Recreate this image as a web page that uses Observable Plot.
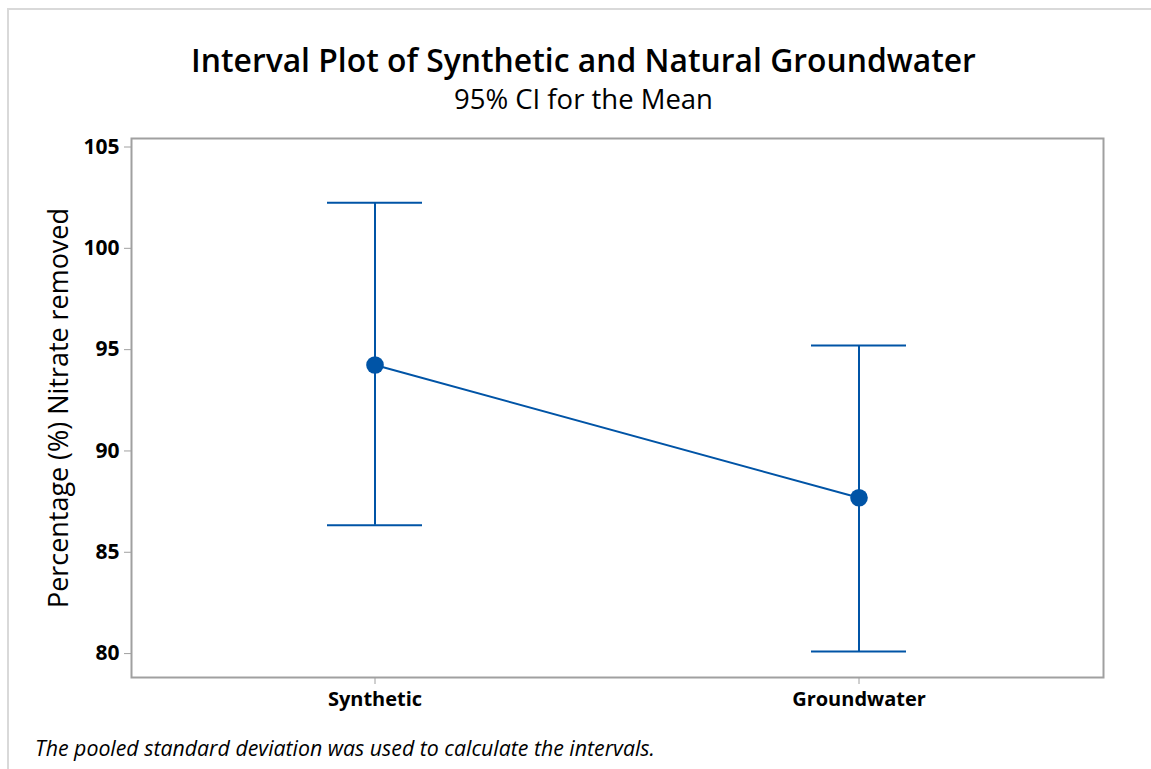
<!DOCTYPE html>
<html><head><meta charset="utf-8">
<script src="https://cdn.jsdelivr.net/npm/d3@7"></script>
<script src="https://cdn.jsdelivr.net/npm/@observablehq/plot@0.6"></script>
<style>
html,body{margin:0;padding:0;background:#fff;}
#wrap{position:relative;width:1151px;height:769px;overflow:hidden;font-family:'Open Sans',sans-serif;}
#edge{position:absolute;left:7px;top:8px;width:1144px;height:761px;border-top:2px solid #d9d9d9;border-left:2px solid #d9d9d9;}
#chart{position:absolute;left:0;top:0;}
#texts{position:absolute;left:0;top:0;pointer-events:none;}
</style></head><body>
<div id="wrap"><div id="edge"></div><div id="chart"></div>
<svg id="texts" width="1151" height="769"></svg></div>
<script>
const categories = ["Synthetic", "Groundwater"];
const means = [94.24, 87.69];
const lower = [86.33, 80.10];
const upper = [102.25, 95.20];
const yTicks = [80, 85, 90, 95, 100, 105];
const titleText = "Interval Plot of Synthetic and Natural Groundwater";
const subtitleText = "95% CI for the Mean";
const yLabel = "Percentage (%) Nitrate removed";
const captionText = "The pooled standard deviation was used to calculate the intervals.";

const rows = categories.map((c, i) => ({cat: c, mean: means[i], lo: lower[i], hi: upper[i]}));
const blue = "#0054a6";
const chart = Plot.plot({
  width: 1151, height: 769,
  marginLeft: 131, marginRight: 48, marginTop: 138, marginBottom: 92,
  style: {fontFamily: "'Open Sans', sans-serif", background: "transparent", color: "#000"},
  x: {type: "band", domain: categories, paddingInner: 0.803, paddingOuter: 0.4045, label: null},
  y: {domain: [78.82, 105.42], label: null},
  marks: [
    Plot.ruleX(rows, {x: "cat", y1: "lo", y2: "hi", stroke: blue, strokeWidth: 2}),
    Plot.tickY(rows, {x: "cat", y: "hi", stroke: blue, strokeWidth: 2}),
    Plot.tickY(rows, {x: "cat", y: "lo", stroke: blue, strokeWidth: 2}),
    Plot.line(rows, {x: "cat", y: "mean", stroke: blue, strokeWidth: 2}),
    Plot.dot(rows, {x: "cat", y: "mean", r: 8.8, fill: blue, stroke: "none"}),
    Plot.frame({stroke: "#a0a0a0", strokeWidth: 2}),
    Plot.axisY({ticks: yTicks, tickSize: 7, tickPadding: 5, stroke: "#a0a0a0", fill: "#000", fontSize: 21, fontWeight: "bold", label: null}),
    Plot.axisX({tickSize: 7, tickPadding: 7, stroke: "#a0a0a0", fill: "#000", fontSize: 20, fontWeight: "bold", label: null})
  ]
});
document.getElementById("chart").appendChild(chart);

const NS = "http://www.w3.org/2000/svg";
const svgT = document.getElementById("texts");
function addText(str, left, right, baseline, weight, italic, rotateAt) {
  const t = document.createElementNS(NS, "text");
  t.textContent = str;
  t.setAttribute("font-family", "Open Sans, sans-serif");
  t.setAttribute("font-weight", weight);
  t.setAttribute("font-style", italic ? "italic" : "normal");
  t.setAttribute("fill", "#000");
  t.setAttribute("font-size", 100);
  svgT.appendChild(t);
  const w = t.getComputedTextLength();
  t.setAttribute("font-size", (100 * (right - left) / w).toFixed(2));
  if (rotateAt) {
    // rotated label: left..right are the bottom..top span along y, baseline is x
    t.setAttribute("x", 0);
    t.setAttribute("y", 0);
    t.setAttribute("transform", `translate(${baseline},${rotateAt}) rotate(-90)`);
  } else {
    t.setAttribute("x", left);
    t.setAttribute("y", baseline);
  }
}
addText(titleText, 191, 976, 72, 600, false);
addText(subtitleText, 454, 713, 109, 400, false);
addText(captionText, 35, 655, 756, 400, true);
addText(yLabel, 208, 608, 68, 400, false, 608);
</script>
</body></html>
